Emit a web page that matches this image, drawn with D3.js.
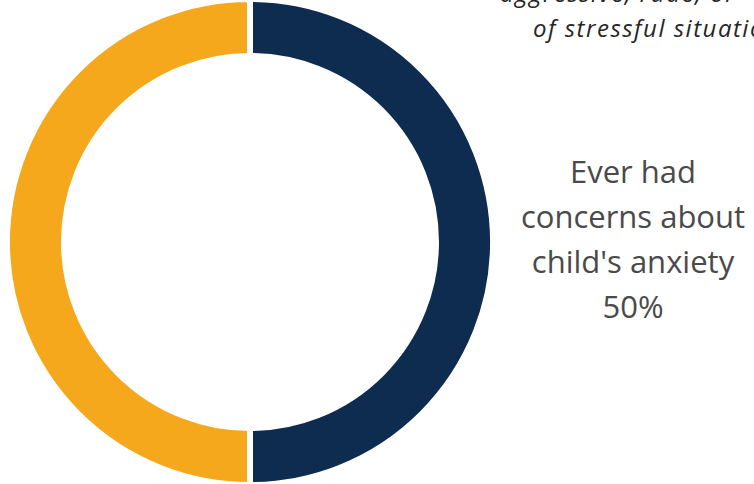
<!DOCTYPE html>
<html>
<head>
<meta charset="utf-8">
<script src="https://cdn.jsdelivr.net/npm/d3@7"></script>
<style>
  html, body { margin: 0; padding: 0; background: #fff; overflow: hidden; }
  svg { display: block; }
</style>
</head>
<body>
<svg id="chart" width="754" height="484"></svg>
<script>
const categories = ["Ever had concerns about child's anxiety", "Never had concerns about child's anxiety"];
const values = [50, 50];
const colors = ["#0E2B50", "#F6A81C"];
const labelLines = ["Ever had", "concerns about", "child's anxiety", "50%"];
const titleLines = ["aggressive, rude, or", "of stressful situations"];

const svg = d3.select("#chart");
const cx = 250, cy = 242, outerR = 243, innerR = 186;

const pie = d3.pie().sort(null).value(d => d.value);
const arc = d3.arc().innerRadius(innerR).outerRadius(outerR);
const data = categories.map((c, i) => ({ category: c, value: values[i] }));

const g = svg.append("g").attr("transform", `translate(${cx},${cy})`);
g.selectAll("path")
  .data(pie(data))
  .join("path")
  .attr("d", arc)
  .attr("fill", (d, i) => colors[i])
  .attr("stroke", "#ffffff")
  .attr("stroke-width", 6)
  .attr("stroke-linejoin", "miter");

// data label
const label = svg.append("text")
  .attr("x", 633)
  .attr("y", 183)
  .attr("text-anchor", "middle")
  .attr("fill", "#4a4a4a")
  .style("font-family", "'Open Sans', sans-serif")
  .style("font-size", "31px");
labelLines.forEach((t, i) => {
  label.append("tspan").attr("x", 633).attr("y", 183 + i * 45).text(t);
});

// clipped title (partially off-canvas, as in the reference)
const title = svg.append("text")
  .attr("fill", "#262626")
  .style("font-family", "'Open Sans', sans-serif")
  .style("font-style", "italic")
  .style("font-size", "24px")
  .style("letter-spacing", "1.5px");
title.append("tspan").attr("x", 500).attr("y", 2).text(titleLines[0]);
title.append("tspan").attr("x", 533).attr("y", 37).text(titleLines[1]);
</script>
</body>
</html>
